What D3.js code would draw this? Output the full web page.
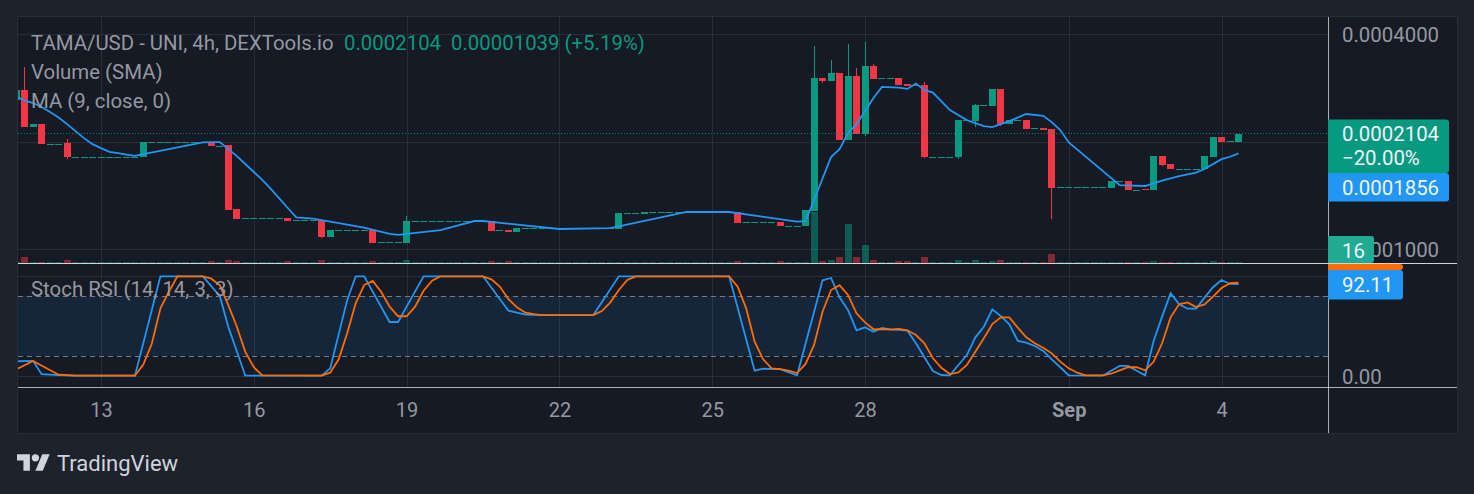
<!DOCTYPE html>
<html lang="en">
<head>
<meta charset="utf-8">
<title>TAMA/USD</title>
<script src="https://cdn.jsdelivr.net/npm/d3@7"></script>
<style>
  body { margin: 0; background: #1e222d; }
  svg { display: block; }
  text { font-family: Roboto, sans-serif; }
  .candle, .vol, .grid { shape-rendering: crispEdges; }
</style>
</head>
<body>
<script>
// prices are in units of 0.0000001 USD, bars are counted in 4h steps from the "13" tick
var firstBar = -10;
var opens = [
  2619,2795,2199,2242,1977,1977,1983,
  1816,1816,1816,1816,1816,1816,1816,1816,
  1812,
  1992,1992,1992,1992,1992,1992,1992,
  1996,1949,1958,1297,
  1221,1221,1221,1221,1221,
  1224,1208,1208,1208,1208,1082,
  1130,1130,1130,1130,1132,1046,1046,1046,1043,
  1198,1198,1198,1198,1198,1198,1198,1198,1198,
  1200,1130,1132,1118,
  1145,1145,1145,1145,1145,1145,1145,1145,1145,1145,1145,
  1140,1261,1261,1256,
  1269,1269,1269,1269,1269,1269,1269,1269,1269,1269,
  1272,1190,1190,1190,1190,1192,1164,1164,1162,
  1280,3018,2960,3117,2022,3057,2102,3260,3012,3012,3018,2905,2878,2886,
  1816,1816,1816,1812,2297,2286,2530,2518,2813,2242,2297,2300,2180,2185,2171,
  1490,1490,1490,1490,1490,1490,
  1485,1551,1553,1470,1471,1466,1824,1733,1681,1681,1681,1678,1812,2061,2005,1996
];
var closes = [
  2795,2203,2242,1970,1977,1977,1812,
  1816,1816,1816,1816,1816,1816,1816,1816,
  1996,
  1992,1992,1992,1992,1992,1992,1992,
  1945,1949,1288,1216,
  1221,1221,1221,1221,1221,
  1200,1208,1208,1208,1085,1132,
  1130,1130,1130,1130,1043,1046,1046,1046,1200,
  1198,1198,1198,1198,1198,1198,1198,1198,1198,
  1125,1130,1118,1147,
  1145,1145,1145,1145,1145,1145,1145,1145,1145,1145,1145,
  1264,1261,1261,1272,
  1269,1269,1269,1269,1269,1269,1269,1269,1269,1269,
  1185,1190,1190,1190,1190,1162,1164,1164,1288,
  3018,2955,3117,2022,3057,2102,3260,2998,3012,3012,2886,2868,2878,1812,
  1816,1816,1816,2300,2297,2535,2530,2813,2242,2300,2297,2171,2180,2157,1485,
  1490,1490,1490,1490,1490,1490,
  1553,1551,1466,1470,1470,1824,1722,1678,1681,1681,1681,1824,2061,1996,2005,2104
];
var highBars = [-9,-4,36,84,86,88,89,90,91,97,103];
var highVals = [3250,2035,1239,3709,3390,3758,3219,3806,3303,2943,2551];
var lowBars = [-4,26,85,90,97,101,103,106,112,125];
var lowVals = [1789,1078,2921,2075,1804,1789,2199,2213,1216,1711];

var baseVolume = 16;
var volBars = [-9,-4,13,15,16,22,26,32,36,46,48,75,80,84,85,86,87,88,89,90,91,94,95,97,101,103,105,106,112,124,131];
var volVals = [167,70,35,100,35,35,70,35,70,35,35,35,35,1700,35,100,167,1300,167,570,70,35,35,167,100,70,50,100,267,60,60];

var maBars = [-10,-9,-8,-7,-6,-5,-4,-3,-2,-1,0,1,2,3,4,5,12,13,14,15,16,17,18,19,20,21,22,23,25,31,34,35,36,40,44,45,54,60,69,74,82,83,84,85,86,87,88,89,90,91,92,94,95,96,97,98,100,102,104,105,107,109,111,112,113,114,120,123,125,127,129,130,132,133,134];
var maVals = [2675,2611,2568,2502,2423,2338,2242,2143,2048,1970,1920,1875,1860,1841,1827,1848,1992,1996,1996,1908,1824,1733,1646,1564,1476,1388,1305,1229,1218,1150,1104,1097,1104,1132,1200,1200,1140,1147,1272,1272,1195,1200,1374,1579,1812,1908,2116,2242,2438,2653,2849,2837,2813,2911,2795,2746,2454,2300,2213,2199,2286,2392,2364,2271,2157,1992,1512,1504,1556,1604,1639,1678,1788,1816,1856];

var kBars = [-10,-8,-7,-5,-3,4,7,12,14,15,17,26,27,29,30,31,34,35,36,38,45,48,50,52,58,61,74,77,78,80,82,85,86,87,88,89,90,91,92,93,94,95,96,97,98,99,100,101,102,103,104,105,106,107,108,109,110,111,112,113,114,118,119,120,121,122,123,124,125,126,127,128,129,130,131,132,133,134];
var kVals = [14.5,15,1.5,0.5,0,0,100,100,80,49,0,0,7.4,76,100,100,54,54,69.5,100,100,65.4,61.4,61,61,100,100,5,7,6.7,0.4,96,98.3,78.9,66,45.7,48.7,44.3,48,46.7,46,45.3,32.6,18.5,4.7,0.7,0.4,10.8,20.8,38.6,49.3,66.8,60,51.7,35,33.2,29.9,25,16.5,8.5,0.4,0,5,9.8,9.8,5,0.4,35,59.4,83,71.8,67.4,67.4,78.5,89,96.3,92.3,92.11];
var dBars = [-10,-8,-5,-3,4,5,6,7,8,9,12,13,14,15,16,17,18,19,26,27,28,29,30,31,32,33,34,35,36,37,38,39,40,45,46,47,48,49,50,51,52,58,59,60,61,62,63,74,75,76,77,78,79,80,81,82,83,84,85,86,87,88,89,90,91,92,93,94,95,96,97,98,99,100,101,102,103,104,105,106,107,108,109,110,111,112,113,114,115,116,118,119,120,121,122,123,124,125,126,127,128,129,130,131,132,133,134];
var dVals = [6.4,14.8,1,0,0,11.5,32.6,67.8,84.5,100,100,97.6,91,71,49.3,24,8.5,0.4,0,3,16.5,42.7,72.8,91.2,95.3,84.5,69.4,59.8,59.8,69.4,85.5,95.6,100,100,97,89.5,76.9,68.8,63.4,62,61,61,65,73.8,86.2,96.3,100,100,89.5,67.8,34.2,16.5,7.4,6.7,5,2.7,11.8,30.9,64.4,86.2,91,81.2,62.8,53.7,46.7,47,46.3,47,45.7,40.9,32.6,17.5,8,1.7,3.4,10.8,24.1,37.6,52,58.7,58.7,48.3,38.6,32.6,28.2,22.5,14.1,7.4,3,0.4,0.4,2,5.4,8.5,8.5,5.4,14,32.6,58.7,71.8,73.8,69,71.8,79.5,88.2,93,93.5];

var tickBars = [0,18,36,54,72,90,114,132];
var tickLabels = ["13","16","19","22","25","28","Sep","4"];
var priceGrid = [4000,2000,1000];
var priceTicks = [4000,1000];  // the 0.0002000 label sits under the last price box
var stochTicks = [0];
var lastPrice = 2104;
var legendTitle = "TAMA/USD - UNI, 4h, DEXTools.io";
var legendPrice = "0.0002104";
var legendChange = "0.00001039 (+5.19%)";

var w = 1474, h = 494;
var plotLeft = 18, plotRight = 1457, axisX = 1328, plotTop = 17, plotBottom = 433;
var paneSplit = 263, stochBottom = 387;

var green = "#089981", red = "#f23645", blue = "#2196f3", orange = "#ff6d00";
var gridColor = "#2a2d38", axisText = "#9598a1";

var x = d3.scaleLinear().domain([0, 18]).range([101, 253.8]);
var y = d3.scaleLog().domain([1000, 4000]).range([249.3, 34.3]);
var yVol = d3.scaleLinear().domain([0, 1700]).range([262.5, 211.5]);
var yStoch = d3.scaleLinear().domain([0, 100]).range([375.7, 276.3]);

var highByBar = new Map(highBars.map(function(b, i) { return [b, highVals[i]]; }));
var lowByBar = new Map(lowBars.map(function(b, i) { return [b, lowVals[i]]; }));
var volByBar = new Map(volBars.map(function(b, i) { return [b, volVals[i]]; }));

var candles = opens.map(function(o, i) {
  var bar = firstBar + i, c = closes[i];
  return {
    bar: bar, open: o, close: c,
    high: highByBar.get(bar) || Math.max(o, c),
    low: lowByBar.get(bar) || Math.min(o, c),
    vol: volByBar.get(bar) || baseVolume,
    color: c >= o ? green : red
  };
});

var svg = d3.select("body").append("svg").attr("width", w).attr("height", h);

svg.append("rect").attr("x", plotLeft - 0.5).attr("y", plotTop - 0.5)
  .attr("width", plotRight - plotLeft + 1).attr("height", plotBottom - plotTop + 1)
  .attr("fill", "#161a25").attr("stroke", gridColor);

var defs = svg.append("defs");
defs.append("clipPath").attr("id", "pricePane").append("rect")
  .attr("x", plotLeft).attr("y", plotTop).attr("width", axisX - plotLeft).attr("height", paneSplit - plotTop);
defs.append("clipPath").attr("id", "stochPane").append("rect")
  .attr("x", plotLeft).attr("y", paneSplit).attr("width", axisX - plotLeft).attr("height", stochBottom - paneSplit);

// grid
var grid = svg.append("g").attr("class", "grid").attr("stroke", gridColor);
grid.selectAll(".v").data(tickBars).enter().append("line")
  .attr("x1", function(d) { return Math.round(x(d)) + 0.5; })
  .attr("x2", function(d) { return Math.round(x(d)) + 0.5; })
  .attr("y1", plotTop).attr("y2", stochBottom);
grid.selectAll(".h").data(priceGrid).enter().append("line")
  .attr("x1", plotLeft).attr("x2", axisX)
  .attr("y1", function(d) { return Math.round(y(d)) + 0.5; })
  .attr("y2", function(d) { return Math.round(y(d)) + 0.5; });
grid.selectAll(".s").data([0, 100]).enter().append("line")
  .attr("x1", plotLeft).attr("x2", axisX)
  .attr("y1", function(d) { return Math.round(yStoch(d)) + 0.5; })
  .attr("y2", function(d) { return Math.round(yStoch(d)) + 0.5; });

// stoch band
svg.append("rect").attr("x", plotLeft).attr("width", axisX - plotLeft)
  .attr("y", yStoch(80)).attr("height", yStoch(20) - yStoch(80))
  .attr("fill", blue).attr("fill-opacity", 0.1);
svg.selectAll(".band").data([80, 20]).enter().append("line")
  .attr("x1", plotLeft).attr("x2", axisX)
  .attr("y1", function(d) { return Math.round(yStoch(d)) + 0.5; })
  .attr("y2", function(d) { return Math.round(yStoch(d)) + 0.5; })
  .attr("stroke", "#787b86").attr("stroke-dasharray", "5 4");

var pricePane = svg.append("g").attr("clip-path", "url(#pricePane)");

pricePane.selectAll(".vol").data(candles).enter().append("rect")
  .attr("class", "vol")
  .attr("x", function(d) { return Math.round(x(d.bar) - 3.5); })
  .attr("width", 7)
  .attr("y", function(d) { return Math.min(yVol(d.vol), 262); })
  .attr("height", function(d) { return Math.max(yVol(0) - yVol(d.vol), 1); })
  .attr("fill", function(d) { return d.color; })
  .attr("fill-opacity", 0.5);

pricePane.selectAll(".wick").data(candles.filter(function(d) { return d.high != d.low; })).enter().append("line")
  .attr("class", "candle")
  .attr("x1", function(d) { return Math.round(x(d.bar) - 3.5) + 3.5; })
  .attr("x2", function(d) { return Math.round(x(d.bar) - 3.5) + 3.5; })
  .attr("y1", function(d) { return y(d.high); })
  .attr("y2", function(d) { return y(d.low); })
  .attr("stroke", function(d) { return d.color; });

pricePane.selectAll(".body").data(candles).enter().append("rect")
  .attr("class", "candle")
  .attr("x", function(d) { return Math.round(x(d.bar) - 3.5); })
  .attr("width", 7)
  .attr("y", function(d) { return y(Math.max(d.open, d.close)); })
  .attr("height", function(d) { return Math.max(Math.abs(y(d.open) - y(d.close)), 1); })
  .attr("fill", function(d) { return d.color; });

var maLine = d3.line().x(function(d) { return x(d[0]); }).y(function(d) { return y(d[1]); });
pricePane.append("path").datum(d3.zip(maBars, maVals))
  .attr("d", maLine).attr("fill", "none").attr("stroke", blue).attr("stroke-width", 1.8);

pricePane.append("line")
  .attr("x1", plotLeft).attr("x2", axisX)
  .attr("y1", Math.floor(y(lastPrice)) + 0.5).attr("y2", Math.floor(y(lastPrice)) + 0.5)
  .attr("stroke", green).attr("stroke-opacity", 0.8).attr("stroke-dasharray", "1 2");

var stochPane = svg.append("g").attr("clip-path", "url(#stochPane)");
var stochLine = d3.line().x(function(d) { return x(d[0]); }).y(function(d) { return yStoch(d[1]); });
stochPane.append("path").datum(d3.zip(kBars, kVals))
  .attr("d", stochLine).attr("fill", "none").attr("stroke", blue).attr("stroke-width", 1.8);
stochPane.append("path").datum(d3.zip(dBars, dVals))
  .attr("d", stochLine).attr("fill", "none").attr("stroke", orange).attr("stroke-width", 1.8);

// pane separators and price axis border
svg.append("g").attr("class", "grid").attr("stroke", "#d1d4dc").call(function(g) {
  g.append("line").attr("x1", plotLeft).attr("x2", plotRight).attr("y1", paneSplit + 0.5).attr("y2", paneSplit + 0.5);
  g.append("line").attr("x1", plotLeft).attr("x2", plotRight).attr("y1", stochBottom + 0.5).attr("y2", stochBottom + 0.5).attr("stroke-opacity", 0.8);
  g.append("line").attr("x1", axisX + 0.5).attr("x2", axisX + 0.5).attr("y1", plotTop).attr("y2", plotBottom).attr("stroke-opacity", 0.8);
});

// axes
var xAxis = svg.append("g").attr("transform", "translate(0," + stochBottom + ")")
  .call(d3.axisBottom(x).tickValues(tickBars).tickSize(0).tickPadding(16)
    .tickFormat(function(d, i) { return tickLabels[i]; }));
xAxis.select(".domain").remove();
xAxis.selectAll("text").attr("fill", axisText).style("font-size", "20px")
  .style("font-weight", function(d, i) { return tickLabels[i] == "Sep" ? "bold" : "normal"; });

var yAxis = svg.append("g").attr("transform", "translate(" + axisX + ",0)")
  .call(d3.axisRight(y).tickValues(priceTicks).tickSize(0).tickPadding(14)
    .tickFormat(function(d) { return (d / 1e7).toFixed(7); }));
yAxis.select(".domain").remove();
yAxis.selectAll("text").attr("fill", axisText).attr("dy", "0.37em").style("font-size", "20.4px");

var stochAxis = svg.append("g").attr("transform", "translate(" + axisX + ",0)")
  .call(d3.axisRight(yStoch).tickValues(stochTicks).tickSize(0).tickPadding(14)
    .tickFormat(function(d) { return d.toFixed(2); }));
stochAxis.select(".domain").remove();
stochAxis.selectAll("text").attr("fill", axisText).attr("dy", "0.37em").style("font-size", "20.4px");

// legends
function legend(txt, lx, ly, color) {
  svg.append("text").attr("x", lx).attr("y", ly).attr("fill", color)
    .style("font-size", "20.4px").text(txt);
}
legend(legendTitle, 31, 50, "#9598a1");
legend(legendPrice, 344, 50, green);
legend(legendChange, 451, 50, green);
legend("Volume (SMA)", 31, 79, "#9598a1");
legend("MA (9, close, 0)", 31, 108, "#9598a1");
legend("Stoch RSI (14, 14, 3, 3)", 31, 296, "#9598a1");

// price labels on the axis
function labelBox(x1, y1, y2, color) {
  var p = d3.path(), r = 3;
  p.moveTo(axisX, y1);
  p.lineTo(x1 - r, y1);
  p.arcTo(x1, y1, x1, y1 + r, r);
  p.lineTo(x1, y2 - r);
  p.arcTo(x1, y2, x1 - r, y2, r);
  p.lineTo(axisX, y2);
  p.closePath();
  svg.append("path").attr("d", p.toString()).attr("fill", color);
}
function labelText(txt, ly) {
  svg.append("text").attr("x", 1342).attr("y", ly).attr("fill", "#f0f3fa")
    .style("font-size", "20.4px").text(txt);
}
labelBox(1449, 119.5, 173, green);
labelText("0.0002104", 141);
labelText("\u221220.00%", 165);
labelBox(1449, 173, 201.5, blue);
labelText("0.0001856", 195);
labelBox(1374, 236, 263, "#22ab94");
labelText("16", 258);
labelBox(1403, 264, 270, orange);
labelBox(1403, 270, 299.5, blue);
labelText("92.11", 292);

// footer logo
var logo = svg.append("g").attr("transform", "translate(17,450.5) scale(0.92)").attr("fill", "#d1d4dc");
logo.append("path").attr("d", "M14 22H7V11H0V4h14v18zM28 22h-8l7.5-18h8L28 22z");
logo.append("circle").attr("cx", 20).attr("cy", 8).attr("r", 4);
svg.append("text").attr("x", 57).attr("y", 471).attr("fill", "#d1d4dc")
  .style("font-size", "22px").text("TradingView");
</script>
</body>
</html>
